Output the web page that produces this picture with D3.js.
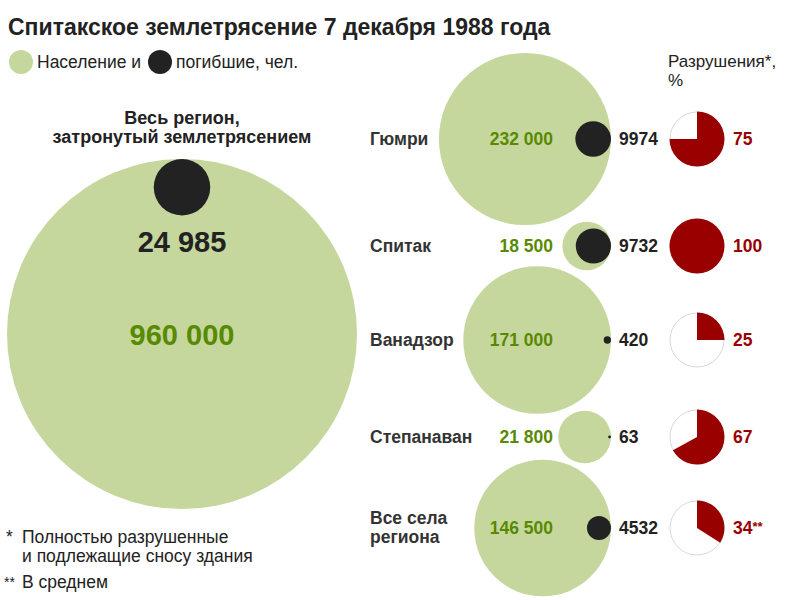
<!DOCTYPE html>
<html><head><meta charset="utf-8">
<script src="https://cdn.jsdelivr.net/npm/d3@7"></script>
<style>
body{margin:0;background:#fff;}
svg text{font-family:"Liberation Sans",Arial,Helvetica,sans-serif;}
</style></head>
<body><svg id="chart" width="786" height="600"></svg>
<script>
// ---- data ----
const places = ["Гюмри", "Спитак", "Ванадзор", "Степанаван", "Все села региона"];
const population = [232000, 18500, 171000, 21800, 146500];
const deaths = [9974, 9732, 420, 63, 4532];
const destruction = [75, 100, 25, 67, 34];
const destructionNotes = ["", "", "", "", "**"];
const regionLabel = ["Весь регион,", "затронутый землетрясением"];
const regionPopulation = 960000;
const regionDeaths = 24985;

// ---- layout ----
const rowY = [139, 246, 340, 437, 528];
const GREEN = "#c5d79d", GREEN_TXT = "#588a00", DARK = "#222", RED = "#990000";
const FS = 17.5;

const svg = d3.select("#chart");
const r = d3.scaleSqrt().domain([0, regionPopulation]).range([0, 175]);
const fmtBig = d3.formatLocale({decimal: ",", thousands: " ", grouping: [3], currency: ["", ""]}).format(",d");
const fmt = v => v >= 10000 ? fmtBig(v) : String(v);

// title
svg.append("text").attr("x", 8).attr("y", 35).attr("font-size", 23).attr("font-weight", "bold")
  .attr("fill", DARK).text("Спитакское землетрясение 7 декабря 1988 года");
// legend
svg.append("circle").attr("cx", 21).attr("cy", 62).attr("r", 12).attr("fill", GREEN);
svg.append("text").attr("x", 37).attr("y", 68).attr("font-size", FS).attr("fill", DARK).text("Население и");
svg.append("circle").attr("cx", 160).attr("cy", 62).attr("r", 12).attr("fill", DARK);
svg.append("text").attr("x", 176).attr("y", 68).attr("font-size", FS).attr("fill", DARK).text("погибшие, чел.");

// big region circle
const bx = 182, bTop = 159;
const bR = r(regionPopulation);
svg.append("circle").attr("cx", bx).attr("cy", bTop + bR).attr("r", bR).attr("fill", GREEN);
const dR = r(regionDeaths);
svg.append("circle").attr("cx", bx).attr("cy", bTop + dR).attr("r", dR).attr("fill", DARK);
svg.append("text").attr("x", bx).attr("y", 252).attr("text-anchor", "middle").attr("font-size", 29)
  .attr("font-weight", "bold").attr("fill", DARK).text(fmt(regionDeaths));
svg.append("text").attr("x", bx).attr("y", 345).attr("text-anchor", "middle").attr("font-size", 29)
  .attr("font-weight", "bold").attr("fill", GREEN_TXT).text(fmt(regionPopulation));
regionLabel.forEach((t, i) => {
  svg.append("text").attr("x", bx).attr("y", 124 + i * 19).attr("text-anchor", "middle")
    .attr("font-size", 18).attr("font-weight", "bold").attr("fill", DARK).text(t);
});

// right panel
const rightEdge = 611;
const rows = places.map((p, i) => ({name: p, pop: population[i], dead: deaths[i], pct: destruction[i], note: destructionNotes[i], y: rowY[i]}));
const g = svg.append("g");
g.selectAll("circle.pop").data(rows).join("circle").attr("class", "pop")
  .attr("cx", d => rightEdge - r(d.pop)).attr("cy", d => d.y).attr("r", d => r(d.pop)).attr("fill", GREEN);
g.selectAll("circle.dead").data(rows).join("circle").attr("class", "dead")
  .attr("cx", d => rightEdge - r(d.dead)).attr("cy", d => d.y).attr("r", d => r(d.dead)).attr("fill", DARK);
rows.forEach(d => {
  const words = d.name === "Все села региона" ? ["Все села", "региона"] : [d.name];
  const t = g.append("text").attr("font-size", FS).attr("font-weight", "bold").attr("fill", "#333");
  if (words.length === 1) {
    t.attr("x", 370).attr("y", d.y + 6).text(words[0]);
  } else {
    words.forEach((w, k) => t.append("tspan").attr("x", 370).attr("y", d.y - 4 + k * 19).text(w));
  }
});
g.selectAll("text.popv").data(rows).join("text").attr("class", "popv")
  .attr("x", 553).attr("y", d => d.y + 6).attr("text-anchor", "end").attr("font-size", FS)
  .attr("font-weight", "bold").attr("fill", GREEN_TXT).text(d => fmt(d.pop));
g.selectAll("text.deadv").data(rows).join("text").attr("class", "deadv")
  .attr("x", 619).attr("y", d => d.y + 6).attr("font-size", FS)
  .attr("font-weight", "bold").attr("fill", DARK).text(d => fmt(d.dead));

// pies
const pieX = 697, pieR = 27.5;
svg.append("text").attr("x", 668).attr("y", 67).attr("font-size", 17).attr("fill", DARK).text("Разрушения*,");
svg.append("text").attr("x", 668).attr("y", 86).attr("font-size", 17).attr("fill", DARK).text("%");
const arc = d3.arc().innerRadius(0).outerRadius(pieR);
const pie = d3.pie().sort(null).value(v => v);
rows.forEach(d => {
  const pg = svg.append("g").attr("transform", `translate(${pieX},${d.y})`);
  pg.append("circle").attr("r", pieR - 0.5).attr("fill", "#fff").attr("stroke", "#d8d8d8").attr("stroke-width", 1);
  pg.selectAll("path").data(pie([d.pct, 100 - d.pct])).join("path")
    .attr("d", arc).attr("fill", (p, k) => k === 0 ? RED : "none");
  const t = svg.append("text").attr("x", 733).attr("y", d.y + 6).attr("font-size", FS)
    .attr("font-weight", "bold").attr("fill", RED).text(d.pct);
  if (d.note) t.append("tspan").attr("font-size", 13).attr("dy", -3).text(d.note);
});

// footnotes
svg.append("text").attr("x", 6).attr("y", 543).attr("font-size", 17.5).attr("fill", DARK).text("*");
svg.append("text").attr("x", 22).attr("y", 543).attr("font-size", 17.5).attr("fill", DARK).text("Полностью разрушенные");
svg.append("text").attr("x", 22).attr("y", 562).attr("font-size", 17.5).attr("fill", DARK).text("и подлежащие сносу здания");
svg.append("text").attr("x", 4).attr("y", 587).attr("font-size", 14).attr("fill", DARK).text("**");
svg.append("text").attr("x", 22).attr("y", 588).attr("font-size", 17.5).attr("fill", DARK).text("В среднем");
</script></body></html>
